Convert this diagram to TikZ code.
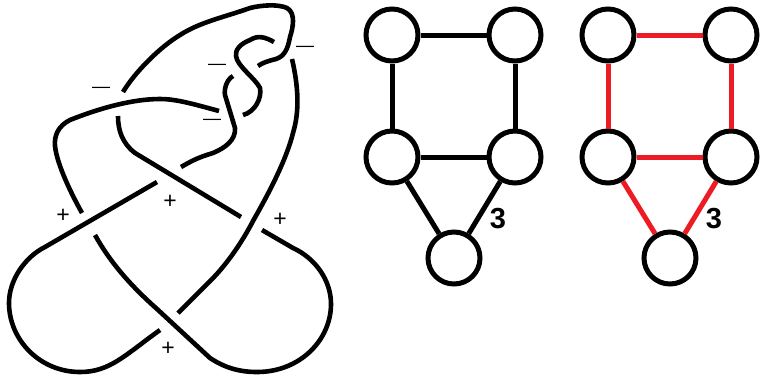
\documentclass[tikz,border=0pt]{standalone}
\usepackage{fontspec}
\setmainfont{Liberation Sans}
\definecolor{edgered}{RGB}{237,28,36}
\tikzset{
  knot/.style={line width=4.6pt,line cap=butt,line join=round,black},
  vert/.style={circle,draw=black,line width=5pt,minimum size=52pt,inner sep=0pt,fill=white},
  blackedge/.style={line width=5pt,black},
  rededge/.style={line width=5pt,color=edgered},
  sign/.style={inner sep=0pt,font=\fontsize{23}{23}\selectfont},
  dash sign/.style={inner sep=0pt,font=\fontsize{18}{18}\selectfont},
  weight/.style={inner sep=0pt,font=\fontsize{29}{29}\selectfont\bfseries}
}
\begin{document}
\begin{tikzpicture}[x=1pt,y=-1pt]
\useasboundingbox (0,0) rectangle (760,381);
\fill[white] (0,0) rectangle (760,381);
% knot strands
\draw[knot] (123,92) .. controls (135,72) and (160,47) .. (180,35) .. controls (200,22) and (225,17) .. (250,8) .. controls (262,5) and (278,4) .. (287,8) .. controls (296,13) and (293,28) .. (290,37) .. controls (288,48) and (285,56) .. (276,59) .. controls (268,61) and (262,63) .. (258,66);
\draw[knot] (274,42) .. controls (265,37) and (258,35) .. (250,40) .. controls (240,44) and (235,50) .. (236,56) .. controls (237,66) and (255,78) .. (260,88) .. controls (262,98) and (255,112) .. (243,115);
\draw[knot] (233,76) .. controls (226,80) and (224,90) .. (225,95) -- (235,128) .. controls (236,140) and (225,148) .. (213,153) .. controls (200,157) and (195,159) .. (181,167);
\draw[knot] (219,111) .. controls (190,103) and (175,99) .. (160,99) .. controls (130,99) and (95,110) .. (70,120) .. controls (58,126) and (54,136) .. (55,146) .. controls (57,165) and (72,195) .. (82,213);
\draw[knot] (118,116) .. controls (118,130) and (122,143) .. (135,153) -- (241,217);
\draw[knot] (157,182) -- (45,247) .. controls (25,257) and (9,280) .. (9,303) .. controls (9,340) and (40,372) .. (80,372) .. controls (110,372) and (125,355) .. (160,330);
\draw[knot] (95,235) .. controls (110,262) and (130,285) .. (157,309) -- (210,358) .. controls (225,368) and (240,372) .. (257,372) .. controls (300,372) and (331,340) .. (331,304) .. controls (331,280) and (315,258) .. (293,248) -- (262,230);
\draw[knot] (292,59) .. controls (298,85) and (300,110) .. (293,133) .. controls (285,165) and (262,205) .. (253,221) .. controls (238,250) and (220,272) .. (207,284) -- (178,313);
% crossing signs
\node[dash sign] (m1) at (101,90) {—};
\node[dash sign] (m2) at (217,67) {—};
\node[dash sign] (m3) at (212,122) {—};
\node[dash sign] (m4) at (305,49) {—};
\node[sign] (p1) at (63,216) {+};
\node[sign] (p2) at (170,202) {+};
\node[sign] (p3) at (280,220) {+};
\node[sign] (p4) at (168,349) {+};
% black graph
\node[vert] (a1) at (392,35) {};
\node[vert] (a2) at (515,35) {};
\node[vert] (a3) at (392,157) {};
\node[vert] (a4) at (515,157) {};
\node[vert] (a5) at (454,258) {};
\draw[blackedge] (a1)--(a2);
\draw[blackedge] (a1)--(a3);
\draw[blackedge] (a2)--(a4);
\draw[blackedge] (a3)--(a4);
\draw[blackedge] (a3)--(a5);
\draw[blackedge] (a4)--(a5);
\node[weight] (w1) at (498,219) {3};
% red graph
\node[vert] (b1) at (608,35) {};
\node[vert] (b2) at (731,35) {};
\node[vert] (b3) at (608,157) {};
\node[vert] (b4) at (731,157) {};
\node[vert] (b5) at (670,258) {};
\draw[rededge] (b1)--(b2);
\draw[rededge] (b1)--(b3);
\draw[rededge] (b2)--(b4);
\draw[rededge] (b3)--(b4);
\draw[rededge] (b3)--(b5);
\draw[rededge] (b4)--(b5);
\node[weight] (w2) at (714,219) {3};
\end{tikzpicture}
\end{document}
